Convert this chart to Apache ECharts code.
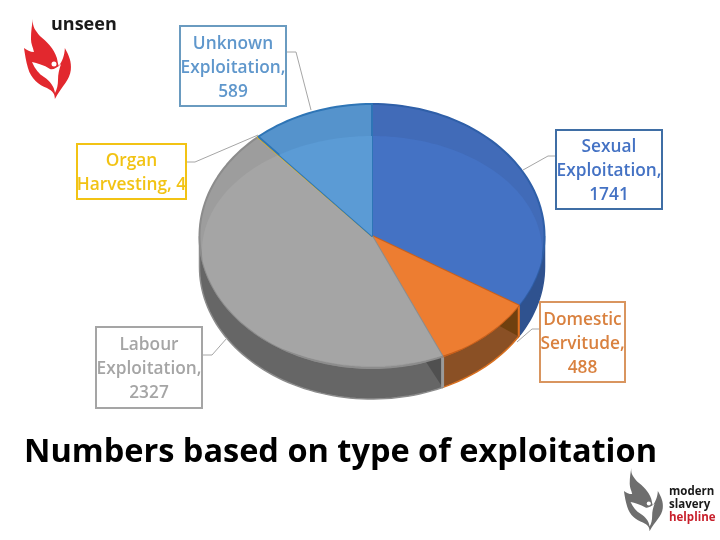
<!DOCTYPE html>
<html>
<head>
<meta charset="utf-8">
<style>
html, body { margin: 0; background: #fff; }
#chart { width: 720px; height: 540px; }
</style>
<script src="https://cdn.jsdelivr.net/npm/echarts@6/dist/echarts.min.js"></script>
</head>
<body>
<div id="chart"></div>
<script>
var categories = ['Sexual\nExploitation', 'Domestic\nServitude', 'Labour\nExploitation', 'Organ\nHarvesting', 'Unknown\nExploitation']
var values = [1741, 488, 2327, 4, 589]
var valueSeparators = [',\n', ',\n', ',\n', ', ', ',\n']

var topColors = ['#4472c4', '#ed7d31', '#a5a5a5', '#ffc000', '#5b9bd5']
var bandColors = ['#416bb8', '#e5792f', '#9d9d9d', '#ffc000', '#5593cc']
var edgeColors = ['#2f5fa8', '#c9601c', '#8c8c8c', '#ffc000', '#2e75b6']
var wallColors = ['#2f528f', '#8a5025', '#666666', '#7f6000', '#3a6d9c']
var wallEdges = ['#2f528f', '#d9701f', '#8c8c8c', '#7f6000', '#3a6d9c']
var wallShades = ['#2f528f', '#70400f', '#505050', '#7f6000', '#3a6d9c']
var textColors = ['#4472c4', '#d9813f', '#a5a5a5', '#f2c314', '#5f97cc']
var boxColors = ['#3f6ea5', '#d9955f', '#a5a5a5', '#f2c314', '#6a9bc0']

// layout of the label boxes and their leader lines
var boxes = [
  {x: 556, y: 130, w: 106, h: 79, line: [[556, 156], [548, 156], [523, 170]]},
  {x: 540, y: 302, w: 85, h: 80, line: [[540, 329], [532, 329], [517, 342]]},
  {x: 96, y: 327, w: 106, h: 81, line: [[202, 355], [212, 355], [227, 338]]},
  {x: 77, y: 144, w: 109, h: 55, line: [[186, 162], [195, 162], [258, 135]]},
  {x: 180, y: 26, w: 106, h: 80, line: [[286, 52], [296, 52], [311, 110]]}
]

var cx = 372, cy = 236, rx = 172.5, ry = 132, depth = 31
var innerCy = 251, innerRx = 170, innerRy = 115
var font = '"Open Sans", "Noto Sans", sans-serif'
var total = values.reduce(function (a, b) { return a + b }, 0)

var starts = []
var sum = 0
for (var i = 0; i < values.length; i++) {
  starts.push(sum / total * 360)
  sum += values[i]
}

function rim (deg, drop) {
  var t = deg * Math.PI / 180
  return [cx + Math.sin(t) * rx, cy - Math.cos(t) * ry + (drop || 0)]
}

// where the ray from the centre towards the rim leaves the lighter inner ellipse
function innerRim (deg) {
  var t = deg * Math.PI / 180
  var dx = Math.sin(t) * rx, dy = -Math.cos(t) * ry
  var a = dx * dx / (innerRx * innerRx) + dy * dy / (innerRy * innerRy)
  var oy = (cy - innerCy) / innerRy
  var b = 2 * (dy / innerRy) * oy
  var c = oy * oy - 1
  var s = (-b + Math.sqrt(b * b - 4 * a * c)) / (2 * a)
  s = Math.min(s, 1)
  return [cx + dx * s, cy + dy * s]
}

function arc (from, to, fn) {
  var pts = []
  var n = Math.max(2, Math.ceil((to - from) / 2))
  for (var i = 0; i <= n; i++) pts.push(fn(from + (to - from) * i / n))
  return pts
}

function renderWall (params) {
  var i = params.dataIndex
  var from = Math.max(starts[i], 90)
  var to = Math.min(starts[i] + values[i] / total * 360, 270)
  if (to <= from) return {type: 'group', children: []}
  var upper = arc(from, to, function (d) { return rim(d) })
  var lower = arc(from, to, function (d) { return rim(d, depth) }).reverse()
  var children = [{
    type: 'polygon',
    shape: {points: upper.concat(lower)},
    style: {fill: wallColors[i], stroke: wallEdges[i], lineWidth: 1.5}
  }]
  if (i === 1 || i === 2) {
    var span = i === 1 ? 11 : 6
    children.push({
      type: 'polygon',
      shape: {points: [rim(from), rim(from + span), rim(from, depth)]},
      style: {fill: wallShades[i]}
    })
    children.push({
      type: 'line',
      shape: {x1: rim(from)[0], y1: rim(from)[1], x2: rim(from)[0], y2: rim(from, depth)[1]},
      style: {stroke: i === 1 ? '#e0701f' : '#9a9a9a', lineWidth: i === 1 ? 2 : 3}
    })
  }
  return {type: 'group', children: children}
}

function renderTop (params) {
  var i = params.dataIndex
  var from = starts[i]
  var to = from + values[i] / total * 360
  var outer = [[cx, cy]].concat(arc(from, to, function (d) { return rim(d) }))
  var inner = [[cx, cy]].concat(arc(from, to, innerRim))
  return {
    type: 'group',
    children: [
      {type: 'polygon', shape: {points: outer}, style: {fill: bandColors[i], stroke: edgeColors[i], lineWidth: 2, lineJoin: 'round'}},
      {type: 'polygon', shape: {points: inner}, style: {fill: topColors[i]}}
    ]
  }
}

function renderLabel (params) {
  var i = params.dataIndex
  var b = boxes[i]
  return {
    type: 'group',
    children: [
      {type: 'polyline', shape: {points: b.line}, style: {fill: 'none', stroke: '#a6a6a6', lineWidth: 1}},
      {type: 'rect', shape: {x: b.x, y: b.y, width: b.w, height: b.h}, style: {fill: '#fff', stroke: boxColors[i], lineWidth: 2}},
      {
        type: 'text',
        x: b.x + b.w / 2,
        y: b.y + b.h / 2 + 2,
        style: {
          text: categories[i] + valueSeparators[i] + values[i],
          fill: textColors[i],
          font: '600 17.3px ' + font,
          lineHeight: 24,
          align: 'center',
          verticalAlign: 'middle'
        }
      }
    ]
  }
}

var flame = 'M33 19 C32 27 36 31 40 36 C47 42 54 48 57 58 C58 62 58 64 59 66 C62 62 65 55 65 48 C69 55 72 62 71 70 C70 80 62 86 55 99 C55 94 53 91 47 88 C39 85 31 79 28 68 C26 61 25 55 24 48 C27 50 30 52 34 52 C33 47 31 44 31 39 C31 31 32 25 33 19 Z'
var figure = 'M32 62 C37 63 44 65 50 69 C53 70 57 68 61 64 C59 70 58 74 58 80 C58 85 57 89 55 93 C54 86 50 81 44 77 C39 74 35 69 32 62 Z'

// the two logos, same flame at two places
function logoFlame (x, y, sx, sy, color) {
  return {
    type: 'group',
    x: x,
    y: y,
    scaleX: sx,
    scaleY: sy,
    children: [
      {type: 'path', shape: {pathData: flame, x: 24, y: 19, width: 47, height: 80, layout: 'cover'}, style: {fill: color}},
      {type: 'path', shape: {pathData: figure, x: 32, y: 62, width: 29, height: 31, layout: 'cover'}, style: {fill: '#fff'}},
      {type: 'circle', shape: {cx: 54, cy: 64, r: 2.5}, style: {fill: '#fff'}}
    ]
  }
}

function renderLogos () {
  return {
    type: 'group',
    children: [
      logoFlame(0, 0, 1, 1, '#e2282e'),
      logoFlame(604, 453, 0.83, 0.79, '#6e6e6e')
    ]
  }
}

var chart = echarts.init(document.getElementById('chart'))
chart.setOption({
  animation: false,
  backgroundColor: '#fff',
  title: {
    text: 'Numbers based on type of exploitation',
    left: 19,
    top: 431,
    textStyle: {fontFamily: font, fontSize: 32.5, fontWeight: 700, color: '#000'}
  },
  series: [
    {type: 'custom', coordinateSystem: 'none', data: values, renderItem: renderWall, silent: true},
    {type: 'custom', coordinateSystem: 'none', data: values, renderItem: renderTop, silent: true},
    {type: 'custom', coordinateSystem: 'none', data: values, renderItem: renderLabel, silent: true},
    {type: 'custom', coordinateSystem: 'none', data: [0], renderItem: renderLogos, silent: true}
  ],
  graphic: [
    {type: 'text', x: 51, y: 16, style: {text: 'unseen', fill: '#1a1a1a', font: '700 18px ' + font}},
    {type: 'text', x: 669, y: 486, style: {text: 'modern', fill: '#1a1a1a', font: '700 11.5px ' + font}},
    {type: 'text', x: 669, y: 499, style: {text: 'slavery', fill: '#1a1a1a', font: '700 11.5px ' + font}},
    {type: 'text', x: 669, y: 512, style: {text: 'helpline', fill: '#c8202c', font: '700 11.5px ' + font}}
  ]
})
</script>
</body>
</html>
